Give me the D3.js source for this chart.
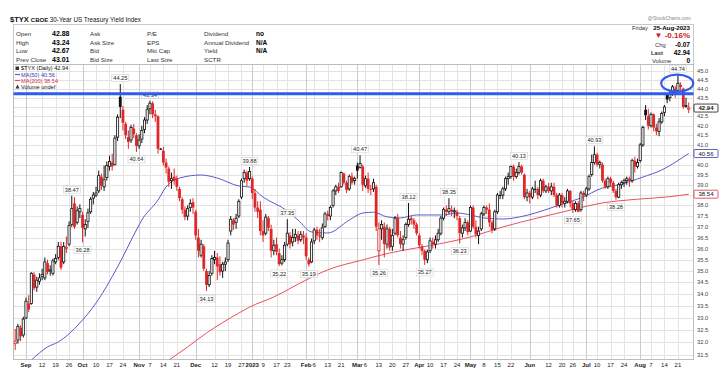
<!DOCTYPE html>
<html><head><meta charset="utf-8">
<script src="https://cdn.jsdelivr.net/npm/d3@7"></script>
<style>body{margin:0;background:#fff}svg{display:block;font-family:"Liberation Sans",Arial,sans-serif}</style>
</head><body><svg id="c" width="720" height="384"></svg>
<script>
// ---------- DATA ----------
const dates = [
"2022-08-26","2022-08-29","2022-08-30","2022-08-31",
"2022-09-01","2022-09-02","2022-09-06","2022-09-07","2022-09-08","2022-09-09","2022-09-12","2022-09-13","2022-09-14","2022-09-15","2022-09-16","2022-09-19","2022-09-20","2022-09-21","2022-09-22","2022-09-23","2022-09-26","2022-09-27","2022-09-28","2022-09-29","2022-09-30",
"2022-10-03","2022-10-04","2022-10-05","2022-10-06","2022-10-07","2022-10-10","2022-10-11","2022-10-12","2022-10-13","2022-10-14","2022-10-17","2022-10-18","2022-10-19","2022-10-20","2022-10-21","2022-10-24","2022-10-25","2022-10-26","2022-10-27","2022-10-28","2022-10-31",
"2022-11-01","2022-11-02","2022-11-03","2022-11-04","2022-11-07","2022-11-08","2022-11-09","2022-11-10","2022-11-11","2022-11-14","2022-11-15","2022-11-16","2022-11-17","2022-11-18","2022-11-21","2022-11-22","2022-11-23","2022-11-25","2022-11-28","2022-11-29","2022-11-30",
"2022-12-01","2022-12-02","2022-12-05","2022-12-06","2022-12-07","2022-12-08","2022-12-09","2022-12-12","2022-12-13","2022-12-14","2022-12-15","2022-12-16","2022-12-19","2022-12-20","2022-12-21","2022-12-22","2022-12-23","2022-12-27","2022-12-28","2022-12-29","2022-12-30",
"2023-01-03","2023-01-04","2023-01-05","2023-01-06","2023-01-09","2023-01-10","2023-01-11","2023-01-12","2023-01-13","2023-01-17","2023-01-18","2023-01-19","2023-01-20","2023-01-23","2023-01-24","2023-01-25","2023-01-26","2023-01-27","2023-01-30","2023-01-31",
"2023-02-01","2023-02-02","2023-02-03","2023-02-06","2023-02-07","2023-02-08","2023-02-09","2023-02-10","2023-02-13","2023-02-14","2023-02-15","2023-02-16","2023-02-17","2023-02-21","2023-02-22","2023-02-23","2023-02-24","2023-02-27","2023-02-28",
"2023-03-01","2023-03-02","2023-03-03","2023-03-06","2023-03-07","2023-03-08","2023-03-09","2023-03-10","2023-03-13","2023-03-14","2023-03-15","2023-03-16","2023-03-17","2023-03-20","2023-03-21","2023-03-22","2023-03-23","2023-03-24","2023-03-27","2023-03-28","2023-03-29","2023-03-30","2023-03-31",
"2023-04-03","2023-04-04","2023-04-05","2023-04-06","2023-04-10","2023-04-11","2023-04-12","2023-04-13","2023-04-14","2023-04-17","2023-04-18","2023-04-19","2023-04-20","2023-04-21","2023-04-24","2023-04-25","2023-04-26","2023-04-27","2023-04-28",
"2023-05-01","2023-05-02","2023-05-03","2023-05-04","2023-05-05","2023-05-08","2023-05-09","2023-05-10","2023-05-11","2023-05-12","2023-05-15","2023-05-16","2023-05-17","2023-05-18","2023-05-19","2023-05-22","2023-05-23","2023-05-24","2023-05-25","2023-05-26","2023-05-30","2023-05-31",
"2023-06-01","2023-06-02","2023-06-05","2023-06-06","2023-06-07","2023-06-08","2023-06-09","2023-06-12","2023-06-13","2023-06-14","2023-06-15","2023-06-16","2023-06-20","2023-06-21","2023-06-22","2023-06-23","2023-06-26","2023-06-27","2023-06-28","2023-06-29","2023-06-30",
"2023-07-03","2023-07-05","2023-07-06","2023-07-07","2023-07-10","2023-07-11","2023-07-12","2023-07-13","2023-07-14","2023-07-17","2023-07-18","2023-07-19","2023-07-20","2023-07-21","2023-07-24","2023-07-25","2023-07-26","2023-07-27","2023-07-28","2023-07-31",
"2023-08-01","2023-08-02","2023-08-03","2023-08-04","2023-08-07","2023-08-08","2023-08-09","2023-08-10","2023-08-11","2023-08-14","2023-08-15","2023-08-16","2023-08-17","2023-08-18","2023-08-21","2023-08-22","2023-08-23","2023-08-24","2023-08-25"];

const open = [
31.95,32.10,32.60,32.30,
33.00,33.60,33.60,34.85,34.30,34.55,34.75,34.70,35.35,35.00,34.90,35.40,35.60,36.10,35.40,36.00,36.20,37.10,38.10,37.20,37.70,
37.55,36.90,37.25,37.70,38.35,38.50,38.70,39.40,38.90,39.35,39.90,40.10,40.00,41.40,43.55,42.85,42.10,41.40,41.25,41.85,41.50,
40.95,41.30,41.80,42.30,42.90,43.20,42.60,42.50,40.80,40.70,40.10,39.80,39.20,39.40,39.30,38.80,38.30,37.80,37.50,37.90,38.15,
37.70,36.50,35.70,36.10,35.00,34.40,34.90,35.50,35.60,35.30,35.00,35.30,35.50,36.80,37.30,37.20,37.50,38.40,39.30,39.60,39.30,
39.30,38.60,37.90,37.80,36.80,36.70,37.40,36.90,35.90,36.20,35.80,35.35,35.50,36.20,36.60,36.30,36.50,36.60,36.40,36.60,
36.50,35.50,35.40,36.35,36.85,36.60,36.50,37.00,37.60,37.50,38.00,38.70,38.90,38.90,39.55,39.10,38.80,39.40,39.20,
39.95,39.85,39.90,38.95,39.30,38.80,38.80,38.90,35.90,36.90,37.00,36.20,36.90,36.10,36.70,37.40,36.50,36.20,36.50,37.10,37.40,37.30,37.10,
36.60,36.10,35.90,35.50,35.90,36.30,36.20,36.40,36.70,37.40,37.80,37.70,37.80,37.70,37.70,37.40,36.70,36.95,37.20,
36.80,37.90,37.00,36.60,36.90,37.60,37.90,37.80,37.20,36.90,37.70,38.50,38.50,38.80,39.30,39.40,39.90,39.40,39.60,39.90,39.50,38.40,
38.60,38.40,38.80,38.80,38.50,39.20,38.70,38.90,38.70,38.90,38.50,38.00,38.50,38.10,38.20,38.70,38.10,37.80,38.10,37.80,38.60,
38.50,38.80,39.50,40.10,40.50,40.00,40.00,39.20,38.90,39.30,39.10,38.70,38.40,39.00,39.10,39.20,39.30,39.20,40.20,39.90,
40.20,41.00,42.85,42.50,42.00,42.60,41.90,41.70,42.20,42.70,43.65,43.50,43.80,44.00,43.90,44.20,44.00,43.10,42.88];

const high = [
32.55,32.75,32.70,33.05,
33.85,33.95,34.95,34.95,34.75,34.90,35.10,35.60,35.50,35.25,35.55,35.75,36.30,36.30,36.30,36.55,37.25,38.47,38.40,37.95,38.05,
37.70,37.35,37.85,38.40,38.65,38.90,39.70,39.55,39.95,40.15,40.45,40.55,41.50,42.60,44.25,43.05,42.20,41.75,42.05,42.10,41.60,
41.55,42.00,42.45,43.10,43.34,43.30,42.85,42.55,40.85,40.90,40.30,39.90,39.60,39.80,39.45,38.90,38.40,37.95,38.00,38.30,38.35,
37.80,36.90,36.40,36.20,35.10,35.00,35.70,35.90,35.80,35.65,35.40,35.60,36.40,37.50,37.40,37.60,38.30,39.30,39.75,39.70,39.88,
39.40,38.80,38.20,38.20,37.30,37.60,37.50,37.10,36.40,36.50,36.00,35.70,36.30,37.35,36.75,36.90,36.90,36.80,36.80,36.80,
36.70,35.60,36.45,36.95,37.00,36.90,37.15,37.70,37.75,38.00,38.80,39.00,39.10,39.65,39.60,39.20,39.50,39.60,39.40,
40.10,40.47,40.00,39.45,39.60,39.00,39.30,39.00,37.20,37.30,37.20,37.10,37.00,36.90,37.50,37.60,36.80,36.60,37.20,38.12,37.50,37.40,37.20,
36.70,36.20,35.95,35.95,36.50,36.50,36.60,36.90,37.50,37.90,38.00,38.35,38.00,37.90,37.80,37.50,37.10,37.40,37.30,
38.00,38.00,37.30,37.00,37.70,38.00,38.00,38.10,37.30,37.80,38.60,38.70,38.90,39.40,39.60,39.95,40.00,39.80,40.13,40.00,39.55,38.80,
38.70,38.90,39.20,38.90,39.30,39.30,39.00,39.10,39.10,39.10,38.60,38.60,38.60,38.40,38.80,38.75,38.20,38.20,38.20,38.70,38.70,
38.90,39.50,40.50,40.93,40.60,40.20,40.10,39.30,39.40,39.40,39.20,38.80,39.10,39.20,39.30,39.40,39.40,40.30,40.40,40.30,
41.10,42.00,43.10,42.90,42.70,42.65,42.10,42.40,42.75,43.10,43.70,43.90,44.20,44.15,44.74,44.35,44.05,43.50,43.24];

const low = [
31.70,31.95,32.05,32.20,
32.95,33.25,33.55,34.15,34.10,34.40,34.60,34.60,34.85,34.80,34.80,35.30,35.50,35.05,35.30,35.80,36.10,37.00,36.90,37.10,37.40,
36.28,36.55,36.95,37.60,38.05,38.40,38.60,38.75,38.70,39.20,39.70,39.70,39.95,41.20,42.40,41.75,41.30,40.80,41.10,41.35,40.64,
40.80,41.10,41.60,42.10,42.60,42.40,42.20,40.55,40.75,39.95,39.55,38.90,38.80,39.00,38.70,38.20,37.60,37.30,37.30,37.70,37.60,
36.40,35.60,35.60,35.00,34.13,34.30,34.80,35.30,34.60,34.80,34.70,35.00,35.40,36.60,36.85,36.90,37.40,38.30,39.10,38.95,39.20,
38.30,37.70,37.40,36.60,36.30,36.60,36.80,35.60,35.70,35.70,35.22,35.25,35.40,36.10,36.00,36.10,36.30,36.20,36.30,36.20,
35.50,35.19,35.35,36.20,36.40,36.30,36.40,36.95,37.30,37.30,37.90,38.50,38.60,38.85,39.00,38.60,38.70,39.00,39.00,
39.30,39.80,38.70,38.85,38.60,38.50,38.65,36.80,35.26,36.40,35.60,36.00,35.90,35.90,36.60,36.50,36.00,35.90,36.40,37.00,37.10,36.90,36.60,
36.00,35.70,35.27,35.35,35.80,36.00,36.00,36.30,36.60,37.30,37.50,37.60,37.50,37.40,37.30,36.23,36.50,36.80,36.60,
36.75,36.90,36.50,36.20,36.80,37.50,37.60,37.00,36.70,36.80,37.60,38.30,38.30,38.70,39.00,39.30,39.20,39.30,39.50,39.50,38.30,38.20,
38.10,38.30,38.60,38.30,38.40,38.60,38.60,38.60,38.50,38.40,37.90,37.90,37.90,37.90,38.10,37.90,37.65,37.70,37.68,37.70,38.20,
38.40,38.70,39.40,40.00,39.90,39.80,39.10,38.80,38.80,38.90,38.60,38.28,38.35,38.80,38.90,39.00,38.90,39.10,39.60,39.80,
40.10,40.90,42.30,41.80,41.90,41.70,41.50,41.45,42.10,42.50,43.20,43.30,43.60,43.50,43.90,43.90,42.90,42.95,42.67];

const close = [
32.05,32.65,32.25,32.95,
33.70,33.35,34.90,34.25,34.60,34.70,34.85,35.40,34.95,35.05,35.45,35.55,36.10,35.15,36.10,36.05,37.05,37.85,37.00,37.75,37.85,
36.95,37.10,37.65,38.30,38.50,38.60,39.45,38.95,39.25,39.95,40.15,39.90,41.35,42.45,43.00,42.15,41.50,41.15,41.90,41.55,40.95,
41.25,41.75,42.30,42.85,43.20,42.60,42.50,40.80,40.80,40.10,39.85,39.15,39.30,39.20,38.90,38.35,37.80,37.45,37.85,38.10,37.90,
36.60,35.90,36.20,35.10,34.40,34.80,35.55,35.60,35.20,34.95,35.30,35.40,36.25,37.35,37.10,37.40,38.20,39.20,39.60,39.20,39.65,
38.60,37.90,37.70,36.80,36.60,37.45,36.95,35.90,36.15,35.85,35.30,35.50,36.15,36.70,36.20,36.50,36.65,36.35,36.65,36.50,
35.65,35.30,36.30,36.85,36.60,36.55,36.95,37.60,37.50,37.90,38.70,38.90,38.70,39.60,39.10,38.75,39.40,39.10,39.30,
39.70,40.05,39.00,39.30,38.80,38.75,39.10,37.00,36.90,37.10,36.20,36.90,36.05,36.60,37.40,36.60,36.20,36.40,37.10,37.35,37.30,37.10,36.70,
36.15,35.90,35.50,35.85,36.35,36.20,36.40,36.70,37.40,37.80,37.70,37.85,37.70,37.75,37.50,36.70,36.95,37.20,36.75,
37.90,37.00,36.65,36.80,37.60,37.90,37.80,37.20,36.85,37.70,38.50,38.50,38.80,39.30,39.40,39.90,39.40,39.60,39.90,39.60,38.40,38.60,
38.40,38.80,38.80,38.50,39.20,38.70,38.90,38.70,38.90,38.50,38.00,38.50,38.10,38.20,38.70,38.10,37.80,38.10,37.70,38.60,38.50,
38.80,39.40,40.10,40.50,40.00,40.10,39.20,38.90,39.30,39.10,38.70,38.40,39.00,39.10,39.20,39.30,39.20,40.20,39.90,40.10,
41.00,41.90,42.55,42.00,42.60,41.90,41.70,42.20,42.65,43.00,43.40,43.70,44.10,43.75,44.30,44.10,43.00,43.01,42.94];
const closeBeforeStart = 32.30;

// moving averages
const ma50Dates = ["2022-09-06","2022-09-14","2022-09-20","2022-09-30","2022-10-10","2022-10-20","2022-10-31","2022-11-02","2022-11-10","2022-11-15","2022-11-22","2022-12-05","2022-12-13","2022-12-23","2022-12-30","2023-01-09","2023-01-23","2023-01-27","2023-02-03","2023-02-13","2023-02-24","2023-03-03","2023-03-09","2023-03-16","2023-03-23","2023-03-31","2023-04-17","2023-04-24","2023-05-01","2023-05-08","2023-05-17","2023-05-25","2023-06-05","2023-06-16","2023-06-29","2023-07-12","2023-07-20","2023-08-02","2023-08-11","2023-08-21","2023-08-25"];
const ma50Values = [31.30,31.82,32.02,32.79,33.62,35.18,36.85,37.31,38.26,38.89,39.33,39.48,39.33,38.94,38.89,38.40,37.74,37.31,36.76,36.71,37.31,37.64,37.68,37.46,37.41,37.55,37.55,37.64,37.55,37.41,37.36,37.45,37.64,38.02,38.36,38.84,39.00,39.38,39.73,40.20,40.56];
const ma200Dates = ["2022-11-16","2022-11-28","2022-12-07","2022-12-23","2022-12-30","2023-01-13","2023-02-01","2023-02-13","2023-03-03","2023-03-17","2023-03-31","2023-04-17","2023-05-01","2023-05-17","2023-06-06","2023-06-23","2023-07-12","2023-07-31","2023-08-16","2023-08-25"];
const ma200Values = [31.30,31.82,32.38,33.20,33.45,33.88,34.61,35.05,35.49,35.80,36.03,36.25,36.53,36.99,37.41,37.78,38.12,38.30,38.42,38.54];

// swing-point labels
const swingDates = ["2022-09-27","2022-10-03","2022-10-21","2022-10-31","2022-11-07","2022-12-07","2022-12-30","2023-01-18","2023-01-23","2023-02-02","2023-03-02","2023-03-13","2023-03-28","2023-04-05","2023-04-19","2023-04-25","2023-05-25","2023-06-26","2023-07-07","2023-07-19","2023-08-21"];
const swingValues = [38.47,36.28,44.25,40.64,43.34,34.13,39.88,35.22,37.35,35.19,40.47,35.26,38.12,35.27,38.35,36.23,40.13,37.65,40.93,38.28,44.74];
const swingSides = ["hi","lo","hi","lo","hi","lo","hi","lo","hi","lo","hi","lo","hi","lo","hi","lo","hi","lo","hi","lo","hi"];

// axes
const yTicks = [31.5,32.0,32.5,33.0,33.5,34.0,34.5,35.0,35.5,36.0,36.5,37.0,37.5,38.0,38.5,39.0,39.5,40.0,40.5,41.0,41.5,42.0,42.5,43.0,43.5,44.0,44.5,45.0];
const xTickDates = ["2022-09-01","2022-09-12","2022-09-19","2022-09-26","2022-10-03","2022-10-10","2022-10-17","2022-10-24","2022-11-01","2022-11-07","2022-11-14","2022-11-21","2022-12-01","2022-12-12","2022-12-19","2022-12-27","2023-01-03","2023-01-09","2023-01-17","2023-01-23","2023-02-01","2023-02-06","2023-02-13","2023-02-21","2023-03-01","2023-03-06","2023-03-13","2023-03-20","2023-03-27","2023-04-03","2023-04-10","2023-04-17","2023-04-24","2023-05-01","2023-05-08","2023-05-15","2023-05-22","2023-06-01","2023-06-12","2023-06-20","2023-06-26","2023-07-03","2023-07-10","2023-07-17","2023-07-24","2023-08-01","2023-08-07","2023-08-14","2023-08-21"];
const xTickLabels = ["Sep","12","19","26","Oct","10","17","24","Nov","7","14","21","Dec","12","19","27","2023","9","17","23","Feb","6","13","21","Mar","6","13","20","27","Apr","10","17","24","May","8","15","22","Jun","12","20","26","Jul","10","17","24","Aug","7","14","21"];

// header / quote
const quoteLabels1 = ["Open","High","Low","Prev Close"];
const quoteValues1 = ["42.88","43.24","42.67","43.01"];
const quoteLabels2 = ["Ask","Ask Size","Bid","Bid Size"];
const quoteLabels3 = ["P/E","EPS","Mkt Cap","Last Size"];
const quoteLabels4 = ["Dividend","Annual Dividend","Yield","SCTR"];
const quoteValues4 = ["no","N/A","N/A",""];
const lastClose = 42.94, ma50Last = 40.56, ma200Last = 38.54;
const resistanceLevel = 43.72;
const circleDate = "2023-08-18", circleValue = 44.30;

// ---------- DRAW ----------
const svg = d3.select("#c");
const X0 = 13.5, X1 = 693.5, Y0 = 64.5, Y1 = 359.5;
const RED = "#e02828", BLK = "#111", BLUE_ANN = "#2f5cf0", MA50C = "#5a5ad0", MA200C = "#e8505e";

const x = d3.scalePoint().domain(dates).range([15.2, 688.7]);
const y = d3.scaleLog().domain([31.342, 45.38]).range([359, 64]);

// header
svg.append("text").attr("x", 10).attr("y", 21.5).attr("font-size", 7.5).attr("fill", "#111")
  .call(t => { t.append("tspan").attr("font-weight", "bold").text("$TYX ");
               t.append("tspan").attr("font-weight", "bold").attr("font-size", 6).text("CBOE ");
               t.append("tspan").attr("font-size", 6.3).text("30-Year US Treasury Yield Index"); });
svg.append("text").attr("x", 691).attr("y", 20).attr("text-anchor", "end").attr("font-size", 5).attr("fill", "#888").text("@StockCharts.com");
svg.append("rect").attr("x", X0).attr("y", 24.5).attr("width", X1 - X0).attr("height", 40).attr("fill", "none").attr("stroke", "#c8c8c8");

const rowsY = [36, 44.5, 53, 61.5];
function col(labels, xPos, bold, size) {
  svg.append("g").selectAll("text").data(labels).join("text")
    .attr("x", xPos).attr("y", (d, i) => rowsY[i]).attr("font-size", size)
    .attr("font-weight", bold ? "bold" : "normal").attr("fill", bold ? "#000" : "#333").text(d => d);
}
col(quoteLabels1, 16, false, 6.2);
col(quoteValues1, 52, true, 7);
col(quoteLabels2, 90, false, 6.2);
col(quoteLabels3, 147, false, 6.2);
col(quoteLabels4, 204, false, 6.2);
col(quoteValues4, 256, true, 6.5);

svg.append("text").attr("x", 648).attr("y", 29.5).attr("text-anchor", "end").attr("font-size", 5.8).attr("fill", "#333").text("Friday");
svg.append("text").attr("x", 690).attr("y", 29.5).attr("text-anchor", "end").attr("font-size", 6.2).attr("font-weight", "bold").text("25-Aug-2023");
svg.append("text").attr("x", 690).attr("y", 38).attr("text-anchor", "end").attr("font-size", 8).attr("font-weight", "bold").attr("fill", "#c8202a").text("▼ -0.16%");
svg.append("text").attr("x", 655).attr("y", 46.5).attr("font-size", 5.8).attr("fill", "#333").text("Chg");
svg.append("text").attr("x", 690).attr("y", 46.5).attr("text-anchor", "end").attr("font-size", 6.5).attr("font-weight", "bold").text("-0.07");
svg.append("text").attr("x", 651).attr("y", 55).attr("font-size", 5.8).attr("font-weight", "bold").attr("fill", "#333").text("Last");
svg.append("text").attr("x", 690).attr("y", 55).attr("text-anchor", "end").attr("font-size", 6.5).attr("font-weight", "bold").text(lastClose.toFixed(2));
svg.append("text").attr("x", 652).attr("y", 63).attr("font-size", 5.8).attr("fill", "#333").text("Volume");
svg.append("text").attr("x", 690).attr("y", 63).attr("text-anchor", "end").attr("font-size", 6.5).attr("font-weight", "bold").text("0");

// plot frame + grid
svg.append("defs").append("clipPath").attr("id", "clip").append("rect")
  .attr("x", X0).attr("y", Y0).attr("width", X1 - X0).attr("height", Y1 - Y0);
const grid = svg.append("g");
grid.selectAll("line.h").data(yTicks).join("line").attr("class", "h")
  .attr("x1", X0).attr("x2", X1).attr("y1", d => Math.round(y(d)) + 0.5).attr("y2", d => Math.round(y(d)) + 0.5)
  .attr("stroke", "#e2e2e2");
grid.selectAll("line.v").data(xTickDates).join("line").attr("class", "v")
  .attr("x1", d => Math.round(x(d)) + 0.5).attr("x2", d => Math.round(x(d)) + 0.5).attr("y1", Y0).attr("y2", Y1)
  .attr("stroke", (d, i) => isNaN(+xTickLabels[i]) || xTickLabels[i] === "2023" ? "#cbcbcb" : "#e4e4e4");
svg.append("rect").attr("x", X0).attr("y", Y0).attr("width", X1 - X0).attr("height", Y1 - Y0)
  .attr("fill", "none").attr("stroke", "#bdbdbd");

// y axis labels (right)
const boxVals = [lastClose, ma50Last, ma200Last];
svg.append("g").selectAll("text").data(yTicks.filter(v => boxVals.every(b => Math.abs(y(v) - y(b)) > 5)))
  .join("text").attr("x", 697).attr("y", d => y(d) + 2).attr("font-size", 5.8).attr("fill", "#444")
  .text(d => d.toFixed(1));

// x axis labels
svg.append("g").selectAll("text").data(xTickDates).join("text")
  .attr("x", d => x(d)).attr("y", 366.5).attr("text-anchor", "middle")
  .attr("font-size", 6).attr("fill", "#222")
  .attr("font-weight", (d, i) => isNaN(+xTickLabels[i]) || xTickLabels[i] === "2023" ? "bold" : "normal")
  .text((d, i) => xTickLabels[i]);

// plot contents (clipped)
const plot = svg.append("g").attr("clip-path", "url(#clip)");

// moving averages
const line = d3.line().x(d => x(d[0])).y(d => y(d[1])).curve(d3.curveMonotoneX);
plot.append("path").attr("d", line(d3.zip(ma50Dates, ma50Values))).attr("fill", "none").attr("stroke", MA50C).attr("stroke-width", 1);
plot.append("path").attr("d", line(d3.zip(ma200Dates, ma200Values))).attr("fill", "none").attr("stroke", MA200C).attr("stroke-width", 1);

// candles
const idx = d3.range(dates.length);
const colorOf = i => close[i] < (i > 0 ? close[i - 1] : closeBeforeStart) ? RED : BLK;
plot.append("g").selectAll("line").data(idx).join("line")
  .attr("x1", i => x(dates[i])).attr("x2", i => x(dates[i]))
  .attr("y1", i => y(high[i])).attr("y2", i => y(low[i]))
  .attr("stroke", colorOf).attr("stroke-width", 1);
plot.append("g").selectAll("rect").data(idx).join("rect")
  .attr("x", i => x(dates[i]) - (close[i] > open[i] ? 1.1 : 1.4))
  .attr("width", i => close[i] > open[i] ? 2.2 : 2.8)
  .attr("y", i => y(Math.max(open[i], close[i])))
  .attr("height", i => Math.max(y(Math.min(open[i], close[i])) - y(Math.max(open[i], close[i])), 1))
  .attr("fill", i => close[i] > open[i] ? "#f4f4f4" : colorOf(i))
  .attr("stroke", i => close[i] > open[i] ? colorOf(i) : "none")
  .attr("stroke-width", 0.8);

// swing labels
const sw = plot.append("g");
swingDates.forEach((d, k) => {
  const cx = x(d), v = swingValues[k];
  const cy = swingSides[k] === "hi" ? y(v) - 6 : y(v) + 7.5;
  const g = sw.append("g");
  g.append("text").attr("x", cx).attr("y", cy + 2).attr("text-anchor", "middle")
    .attr("font-size", 5.6).attr("fill", "#222").text(v.toFixed(2));
  g.insert("rect", "text").attr("x", cx - 8.5).attr("y", cy - 3.5).attr("width", 17).attr("height", 7)
    .attr("fill", "#fff").attr("fill-opacity", 0.85).attr("stroke", "#d0d0d0").attr("stroke-width", 0.6);
});

// annotations: resistance line and circle
svg.append("line").attr("x1", X0).attr("x2", X1).attr("y1", y(resistanceLevel)).attr("y2", y(resistanceLevel))
  .attr("stroke", BLUE_ANN).attr("stroke-width", 3);
svg.append("ellipse").attr("cx", x(circleDate) + 2).attr("cy", y(circleValue)).attr("rx", 16).attr("ry", 8.5)
  .attr("fill", "none").attr("stroke", BLUE_ANN).attr("stroke-width", 2.2);

// legend inside plot
const lg = svg.append("g").attr("font-size", 5.6);
lg.append("rect").attr("x", 15.5).attr("y", 66.5).attr("width", 3.5).attr("height", 3.5).attr("fill", "#333");
lg.append("text").attr("x", 21).attr("y", 70.3).attr("fill", "#111").text("$TYX (Daily) " + lastClose.toFixed(2));
lg.append("line").attr("x1", 15).attr("x2", 20).attr("y1", 74.5).attr("y2", 74.5).attr("stroke", MA50C).attr("stroke-width", 1.2);
lg.append("text").attr("x", 21).attr("y", 76.5).attr("fill", "#3a3ab8").text("MA(50) " + ma50Last.toFixed(2));
lg.append("line").attr("x1", 15).attr("x2", 20).attr("y1", 80.5).attr("y2", 80.5).attr("stroke", MA200C).attr("stroke-width", 1.2);
lg.append("text").attr("x", 21).attr("y", 82.5).attr("fill", "#d83040").text("MA(200) " + ma200Last.toFixed(2));
lg.append("path").attr("d", "M15.5,88.5 L17.5,84.5 L19.5,88.5 Z").attr("fill", "#333");
lg.append("text").attr("x", 21).attr("y", 88.5).attr("fill", "#111").text("Volume undef");

// right-side value boxes
const boxColors = [BLK, "#3a3ab8", "#d83040"];
boxVals.forEach((v, k) => {
  const cy = y(v);
  svg.append("rect").attr("x", 694).attr("y", cy - 4).attr("width", 24).attr("height", 8)
    .attr("fill", "#fff").attr("stroke", boxColors[k]).attr("stroke-width", 0.8).attr("rx", 1);
  svg.append("text").attr("x", 706).attr("y", cy + 2.2).attr("text-anchor", "middle").attr("font-size", 6)
    .attr("font-weight", k === 0 ? "bold" : "normal").attr("fill", "#111").text(v.toFixed(2));
});
</script></body></html>
